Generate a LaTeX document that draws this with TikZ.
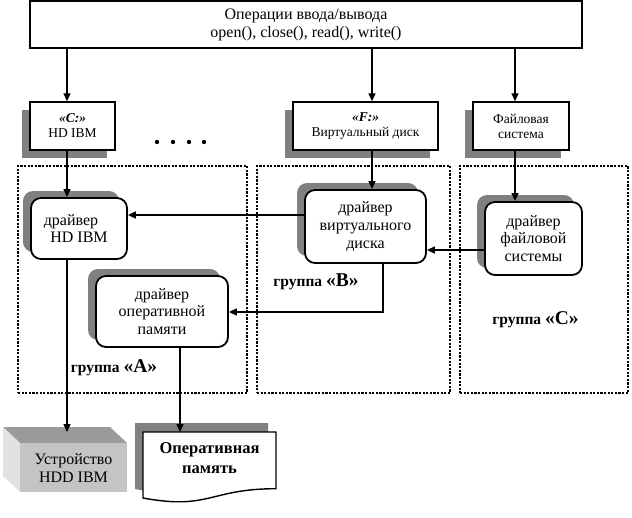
\documentclass[tikz,border=0pt]{standalone}
\usepackage{fontspec}
\setmainfont{Liberation Serif}
\usetikzlibrary{arrows.meta,calc,shadows}
\definecolor{shadowgray}{HTML}{808080}
\definecolor{cubetop}{HTML}{9A9A9A}
\definecolor{cubefront}{HTML}{C4C4C4}
\definecolor{cubeside}{HTML}{E2E2E2}
\begin{document}
\begin{tikzpicture}[x=1pt,y=-1pt,
  arr/.style={line width=1.4pt,-{Triangle[length=8pt,width=7pt]}},
  plainbox/.style={draw,line width=1.4pt,fill=white,inner sep=0pt,align=center},
  smallbox/.style={plainbox,font=\fontsize{13.5}{15}\selectfont,
    drop shadow={shadow xshift=-8pt,shadow yshift=-8pt,fill=shadowgray,opacity=1}},
  drv/.style={draw,line width=1.8pt,fill=white,rounded corners=10pt,inner sep=0pt,align=center,
    font=\fontsize{16}{17.8}\selectfont,
    drop shadow={shadow xshift=-8pt,shadow yshift=7pt,fill=shadowgray,opacity=1}},
  grp/.style={draw,dash pattern=on 2.2pt off 1.4pt,line width=2.4pt,inner sep=0pt},
  grplabel/.style={font=\bfseries\fontsize{15.5}{18}\selectfont,inner sep=0pt},
  dotnode/.style={circle,fill=black,inner sep=0pt,minimum size=4.4pt}
]
\useasboundingbox (0,0) rectangle (632,517);

% groups
\node[grp,minimum width=229pt,minimum height=227pt] (gA) at (132.5,279.5) {};
\node[grp,minimum width=193pt,minimum height=227pt] (gB) at (353.5,279.5) {};
\node[grp,minimum width=168pt,minimum height=227pt] (gC) at (544,279.5) {};

% top box
\node[plainbox,minimum width=552pt,minimum height=47pt,font=\fontsize{16}{18}\selectfont] (top) at (306,24.5)
  {Операции ввода/вывода\\open(), close(), read(), write()};

% small boxes
\node[smallbox,minimum width=85pt,minimum height=48pt] (cbox) at (72.5,126)
  {\textbf{\textit{«C:»}}\\HD IBM};
\node[smallbox,minimum width=145pt,minimum height=48pt] (fbox) at (365.5,126)
  {\textbf{\textit{«F:»}}\\Виртуальный диск};
\node[smallbox,minimum width=96pt,minimum height=48pt] (fsbox) at (521,126)
  {Файловая\\система};

% dots
\node[dotnode] (d1) at (157,142) {};
\node[dotnode] (d2) at (173,142) {};
\node[dotnode] (d3) at (189,142) {};
\node[dotnode] (d4) at (204,142) {};

% drivers
\node[drv,minimum width=96pt,minimum height=61pt] (hd) at (79,228.5)
  {драйвер\hspace*{16pt}\\HD IBM};
\node[drv,minimum width=132pt,minimum height=71pt] (ram) at (162,311.5)
  {драйвер\\оперативной\\памяти};
\node[drv,minimum width=121pt,minimum height=73pt] (virt) at (365.5,226.5)
  {драйвер\\виртуального\\диска};
\node[drv,minimum width=97pt,minimum height=73pt] (fsd) at (533.5,238.5)
  {драйвер\\файловой\\системы};

% group labels
\node[grplabel] (lA) at (114,368) {группа {\fontsize{19.5}{20}\selectfont«A»}};
\node[grplabel] (lB) at (316,282) {группа {\fontsize{19.5}{20}\selectfont«B»}};
\node[grplabel] (lC) at (535.5,320) {группа {\fontsize{19.5}{20}\selectfont«C»}};

% cube (device)
\coordinate (cubeFNW) at (20,443);
\coordinate (cubeFNE) at (127,443);
\coordinate (cubeFSE) at (127,492);
\coordinate (cubeFSW) at (20,492);
\coordinate (cubeBNW) at (3,427);
\coordinate (cubeBNE) at (110,427);
\coordinate (cubeBSW) at (3,476);
\fill[cubetop] (cubeFNW) -- (cubeFNE) -- (cubeBNE) -- (cubeBNW) -- cycle;
\fill[cubeside] (cubeFNW) -- (cubeBNW) -- (cubeBSW) -- (cubeFSW) -- cycle;
\fill[cubefront] (cubeFNW) rectangle (cubeFSE);
\node[align=center,font=\fontsize{16}{18}\selectfont] (dev) at (73.5,468.5) {Устройство\\HDD IBM};
\coordinate (devtop) at (67,432);

% document (RAM)
\fill[shadowgray] (135,423) -- (268,423) -- (268,479.7)
  .. controls (201.5,479.7) and (201.5,501.3) .. (135,489) -- cycle;
\draw[line width=1.4pt,fill=white] (143,432) -- (276,432) -- (276,488.7)
  .. controls (209.5,488.7) and (209.5,510.3) .. (143,498) -- cycle;
\node[align=center,font=\bfseries\fontsize{16.5}{20}\selectfont] (doc) at (209.5,458) {Оперативная\\память};
\coordinate (doctop) at (180,432);

% connector columns / rows
\coordinate (x1) at (67,0);
\coordinate (x2) at (372,0);
\coordinate (x3) at (515,0);
\coordinate (x4) at (383,0);
\coordinate (x5) at (180,0);
\coordinate (y1) at (0,215);
\coordinate (y2) at (0,250);
\coordinate (y3) at (0,312);

% connectors
\draw[arr] (top.south -| x1) -- (cbox.north -| x1);
\draw[arr] (top.south -| x2) -- (fbox.north -| x2);
\draw[arr] (top.south -| x3) -- (fsbox.north -| x3);
\draw[arr] (cbox.south -| x1) -- (hd.north -| x1);
\draw[arr] (fbox.south -| x2) -- (virt.north -| x2);
\draw[arr] (fsbox.south -| x3) -- (fsd.north -| x3);
\draw[arr] (virt.west |- y1) -- (hd.east |- y1);
\draw[arr] (fsd.west |- y2) -- (virt.east |- y2);
\draw[arr] (virt.south -| x4) -- (x4 |- y3) -- (ram.east |- y3);
\draw[arr] (hd.south -| x1) -- (devtop);
\draw[arr] (ram.south -| x5) -- (doctop);
\end{tikzpicture}
\end{document}
